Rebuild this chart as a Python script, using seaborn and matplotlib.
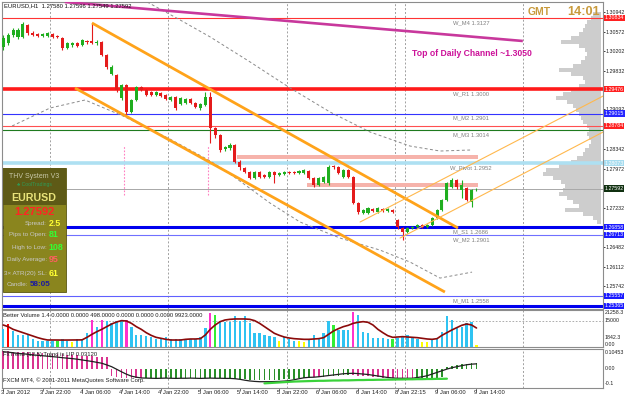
import numpy as np
import pandas as pd
import matplotlib
matplotlib.use("Agg")
import matplotlib.pyplot as plt
import matplotlib.transforms as mtransforms
from matplotlib.patches import Rectangle
import seaborn as sns

# ---------------- data ----------------
title_text = "EURUSD,H1  1.27580 1.27596 1.27549 1.27592"

candle_open = [1.30278, 1.30354, 1.30506, 1.30468, 1.30468, 1.30696, 1.30544, 1.30525, 1.30487, 1.30487,
               1.30525, 1.30487, 1.30449, 1.30259, 1.30316, 1.30354, 1.30316, 1.30392, 1.30392, 1.30354,
               1.30373, 1.30126, 1.29766, 1.29747, 1.29310, 1.29557, 1.29044, 1.29272, 1.29519, 1.29462,
               1.29424, 1.29367, 1.29405, 1.29367, 1.29272, 1.29329, 1.29196, 1.29215, 1.29291, 1.29215,
               1.29120, 1.29177, 1.29329, 1.28741, 1.28608, 1.28342, 1.28361, 1.28418, 1.28096, 1.27982,
               1.27906, 1.27792, 1.27906, 1.27849, 1.27811, 1.27906, 1.27849, 1.27868, 1.27906, 1.27906,
               1.27887, 1.27887, 1.27925, 1.27792, 1.27659, 1.27716, 1.27697, 1.28020, 1.28001, 1.27811,
               1.27944, 1.27811, 1.27318, 1.27128, 1.27128, 1.27204, 1.27147, 1.27204, 1.27166, 1.27185,
               1.26995, 1.26843, 1.26767, 1.26843, 1.26862, 1.26900, 1.26862, 1.26900, 1.27033, 1.27185,
               1.27374, 1.27621, 1.27754, 1.27564, 1.27602, 1.27336, 1.27580]
candle_high = [1.30506, 1.30544, 1.30639, 1.30639, 1.30753, 1.30715, 1.30582, 1.30544, 1.30544, 1.30563,
               1.30544, 1.30506, 1.30468, 1.30373, 1.30373, 1.30373, 1.30430, 1.30411, 1.30734, 1.30411,
               1.30392, 1.30145, 1.29936, 1.29766, 1.29576, 1.29576, 1.29291, 1.29538, 1.29538, 1.29481,
               1.29443, 1.29443, 1.29424, 1.29386, 1.29348, 1.29348, 1.29329, 1.29310, 1.29310, 1.29234,
               1.29215, 1.29424, 1.29424, 1.28760, 1.28627, 1.28399, 1.28456, 1.28437, 1.28134, 1.28001,
               1.27925, 1.27925, 1.27925, 1.27868, 1.27925, 1.27925, 1.27906, 1.27925, 1.27925, 1.27925,
               1.27944, 1.27963, 1.27944, 1.27811, 1.27811, 1.27830, 1.28039, 1.28039, 1.28020, 1.27963,
               1.27963, 1.27830, 1.27336, 1.27204, 1.27242, 1.27223, 1.27242, 1.27223, 1.27223, 1.27204,
               1.27014, 1.26862, 1.26862, 1.26881, 1.26919, 1.26919, 1.26919, 1.27052, 1.27204, 1.27393,
               1.27716, 1.27792, 1.27773, 1.27754, 1.27621, 1.27583, 1.27596]
candle_low = [1.30221, 1.30316, 1.30468, 1.30430, 1.30449, 1.30506, 1.30487, 1.30468, 1.30468, 1.30468,
              1.30449, 1.30449, 1.30221, 1.30240, 1.30278, 1.30278, 1.30297, 1.30335, 1.30335, 1.30316,
              1.30107, 1.29861, 1.29747, 1.29424, 1.29272, 1.28988, 1.29025, 1.29253, 1.29443, 1.29348,
              1.29348, 1.29348, 1.29329, 1.29272, 1.29253, 1.29082, 1.29177, 1.29196, 1.29196, 1.29120,
              1.29082, 1.29158, 1.28456, 1.28551, 1.28285, 1.28304, 1.28323, 1.28077, 1.27944, 1.27887,
              1.27773, 1.27773, 1.27792, 1.27792, 1.27792, 1.27697, 1.27830, 1.27849, 1.27868, 1.27868,
              1.27868, 1.27868, 1.27773, 1.27621, 1.27640, 1.27697, 1.27659, 1.27963, 1.27868, 1.27792,
              1.27792, 1.27299, 1.27109, 1.27109, 1.27109, 1.27147, 1.27128, 1.27147, 1.27147, 1.27128,
              1.26824, 1.26615, 1.26748, 1.26824, 1.26843, 1.26843, 1.26843, 1.26881, 1.27014, 1.27166,
              1.27355, 1.27602, 1.27583, 1.27412, 1.27355, 1.27242, 1.27549]
candle_close = [1.30449, 1.30506, 1.30601, 1.30601, 1.30715, 1.30544, 1.30506, 1.30487, 1.30525, 1.30544,
                1.30468, 1.30468, 1.30259, 1.30354, 1.30354, 1.30297, 1.30411, 1.30373, 1.30354, 1.30373,
                1.30126, 1.29899, 1.29899, 1.29462, 1.29557, 1.29044, 1.29272, 1.29519, 1.29462, 1.29367,
                1.29367, 1.29424, 1.29348, 1.29291, 1.29329, 1.29120, 1.29310, 1.29291, 1.29215, 1.29139,
                1.29196, 1.29329, 1.28741, 1.28608, 1.28323, 1.28380, 1.28418, 1.28096, 1.28001, 1.27906,
                1.27792, 1.27906, 1.27811, 1.27811, 1.27906, 1.27849, 1.27887, 1.27906, 1.27887, 1.27887,
                1.27925, 1.27944, 1.27792, 1.27659, 1.27792, 1.27811, 1.28001, 1.28001, 1.27887, 1.27944,
                1.27811, 1.27318, 1.27147, 1.27185, 1.27223, 1.27166, 1.27223, 1.27166, 1.27204, 1.27147,
                1.26862, 1.26767, 1.26843, 1.26862, 1.26900, 1.26862, 1.26900, 1.27033, 1.27185, 1.27374,
                1.27697, 1.27754, 1.27621, 1.27659, 1.27374, 1.27564, 1.27592]

time_labels = ["3 Jan 2012", "3 Jan 22:00", "4 Jan 06:00", "4 Jan 14:00", "4 Jan 22:00",
               "5 Jan 06:00", "5 Jan 14:00", "5 Jan 22:00", "6 Jan 06:00", "6 Jan 14:00",
               "8 Jan 22:15", "9 Jan 06:00", "9 Jan 14:00"]
time_label_bar = [0, 8, 16, 24, 32, 40, 48, 56, 64, 72, 80, 88, 96]
day_separators = [9.5, 33.5, 57.5, 79.5, 81.5, 105.5]

price_ticks = [1.30942, 1.30572, 1.30202, 1.29832, 1.29092, 1.28342, 1.27972,
               1.27232, 1.26482, 1.26112, 1.25742]

level_prices = [1.30834, 1.29476, 1.29015, 1.28784, 1.28703, 1.28073, 1.27592,
                1.26858, 1.26713, 1.25557, 1.25365]
level_colors = ['#ff3333', '#ff1a1a', '#3333ff', '#ff5050', '#1f7a1f', '#aee0f2', '#a8a8a8',
                '#0000ee', '#7070ff', '#6060ff', '#0000ee']
level_widths = [0.8, 2.6, 0.8, 0.8, 0.8, 2.6, 0.7, 2.2, 0.8, 0.8, 2.2]
tag_prices = [1.30834, 1.29476, 1.29015, 1.28784, 1.28073, 1.27592, 1.26858, 1.26713, 1.25557, 1.25365]
tag_colors = ['#ff2020', '#ff2020', '#2525ff', '#ff2020', '#a6dcef', '#103010',
              '#1a1aff', '#1a1aff', '#1a1aff', '#1a1aff']

level_names = ["W_M4 1.3127", "W_R1 1.3000", "M_M2 1.2901", "M_M3 1.3014",
               "W_Pivot 1.2952", "M_S1 1.2686", "W_M2 1.2901", "M_M1 1.2558"]
level_name_prices = [1.30834, 1.29476, 1.29015, 1.28703, 1.28073, 1.26858, 1.26713, 1.25557]

# trendlines: (bar index, price) pairs
orange_upper_x, orange_upper_y = [18, 92.25], [1.30734, 1.26843]
orange_lower_x, orange_lower_y = [14.56, 89.6], [1.29500, 1.25628]
thin_a_x, thin_a_y = [72.4, 121.7], [1.26957, 1.29348]
thin_b_x, thin_b_y = [80.5, 121.7], [1.26653, 1.28665]
magenta_x, magenta_y = [12.5, 105.4], [1.31132, 1.30392]
channel_note = "Top of Daily Channel ~1.3050"

env_upper_x = [29.2, 35.9, 42.0, 50.1, 58.2, 66.3, 74.4, 82.5, 88.6, 94.7]
env_upper_y = [1.31132, 1.30790, 1.30468, 1.29993, 1.29500, 1.29044, 1.28665, 1.28399, 1.28304, 1.28323]
env_lower_x = [1.8, 9.5, 16.6, 24.3, 33.8, 42.0, 46.6, 54.1, 60.2, 68.3, 76.4, 82.5, 88.6, 95.1]
env_lower_y = [1.28779, 1.29120, 1.29272, 1.28969, 1.28532, 1.28115, 1.27830, 1.27318, 1.26957,
               1.26653, 1.26425, 1.26198, 1.25893, 1.26006]

zone_bars = [(47.4, 96.3), (61.6, 96.3)]
zone_prices = [(1.28153, 1.28228), (1.27621, 1.27697)]
pink_marks = [24.5, 41.5]
pink_mark_range = (1.27469, 1.28418)

profile_top_price = 1.30904
profile_bin = 0.000759
profile_ticks = [80, 100, 140, 160, 180, 220, 300, 400, 220, 160, 140, 160, 200, 280, 420, 300,
                 180, 160, 220, 300, 380, 450, 340, 280, 250, 220, 200, 180, 140, 120, 140, 120,
                 100, 120, 160, 180, 240, 300, 420, 550, 580, 480, 400, 360, 380, 420, 340, 280,
                 220, 360, 180, 80, 40]

volume = [10158, 13225, 9392, 6900, 6900, 6900, 4408, 3642, 3642, 3642,
          3642, 3642, 4408, 3642, 3067, 4408, 4408, 7858, 15525, 11692,
          15525, 15142, 13608, 15142, 15142, 15525, 11692, 6900, 6900, 6325,
          5942, 4408, 4408, 5558, 4408, 4408, 4408, 4408, 4408, 4408,
          5942, 10733, 19358, 18400, 14567, 14567, 14567, 17825, 15142, 17825,
          13608, 8242, 7858, 6900, 6325, 5942, 3642, 5558, 4408, 3642,
          3642, 3067, 4408, 6900, 4408, 7858, 15142, 12650, 9775, 9775,
          9775, 20317, 18400, 8817, 7858, 4983, 4983, 4983, 4408, 4408,
          4983, 5942, 6900, 4983, 4408, 3067, 3067, 4408, 4408, 8817,
          17825, 15525, 11692, 11692, 13608, 14567, 1150]
volume_kind = ("brbbbbbbbb" "bgbbybbbmb" "mbbbbmbbbb" "bbbbbbbbbb" "bbmgbbbbbb"
               "bbbbbbybbb" "yybbbbbgbb" "bmbbbbbbbg" "bbbbbyybbb" "bbbbbby")
volume_ma = [12650, 11692, 10158, 9200, 8242, 7283, 6325, 5367, 4600, 4025,
             4025, 4010, 3990, 4000, 4030, 4060, 4100, 5558, 7283, 8817,
             10158, 11692, 13225, 14375, 15142, 14950, 13608, 11692, 10158, 8242,
             6708, 5558, 4983, 4408, 4025, 4025, 4025, 4408, 4600, 4600,
             4792, 6900, 10158, 12650, 14567, 15525, 15908, 16100, 16100, 16100,
             15908, 15142, 13608, 11692, 9775, 7858, 6708, 5750, 5175, 4792,
             4600, 4408, 4408, 4600, 4792, 5367, 7283, 9200, 10542, 11692,
             12458, 13608, 14183, 14567, 14183, 12650, 10158, 8242, 6517, 5558,
             5750, 5942, 5750, 5558, 5367, 4983, 4600, 4408, 4792, 6708,
             8242, 9775, 11117, 12458, 13225, 12650, 10925]
volume_title = "Better Volume 1.4 0.0000 0.0000 498.0000 0.0000 0.0000 0.0000 9923.0000"

trend_line = [0.112, 0.109, 0.105, 0.101, 0.098, 0.095, 0.091, 0.088, 0.085, 0.082,
              0.079, 0.076, 0.072, 0.069, 0.066, 0.062, 0.057, 0.052, 0.047, 0.041,
              0.035, 0.024, 0.012, -0.005, -0.022, -0.038, -0.051, -0.058, -0.063, -0.064,
              -0.065, -0.066, -0.065, -0.064, -0.065, -0.066, -0.065, -0.065, -0.064, -0.065,
              -0.066, -0.065, -0.064, -0.065, -0.065, -0.066, -0.066, -0.068, -0.072, -0.078,
              -0.083, -0.086, -0.088, -0.088, -0.088, -0.087, -0.086, -0.084, -0.081, -0.075,
              -0.068, -0.062, -0.059, -0.058, -0.055, -0.051, -0.047, -0.043, -0.039, -0.035,
              -0.033, -0.032, -0.034, -0.037, -0.040, -0.045, -0.050, -0.055, -0.060, -0.063,
              -0.065, -0.065, -0.065, -0.065, -0.060, -0.055, -0.048, -0.037, -0.026, -0.015,
              -0.004, 0.005, 0.012, 0.019, 0.025, 0.029, 0.031]
trend_hist = [0.115, 0.114, 0.113, 0.112, 0.110, 0.108, 0.106, 0.104, 0.102, 0.100,
              0.098, 0.096, 0.094, 0.092, 0.090, 0.088, 0.086, 0.084, 0.082, 0.080,
              0.078, 0.075, -0.050, -0.058, -0.062, -0.064, -0.065, -0.065, -0.066,
              -0.065, -0.066, -0.065, -0.064, -0.065, -0.066, -0.065, -0.065, -0.064, -0.065,
              -0.066, -0.065, -0.064, -0.065, -0.065, -0.066, -0.066, -0.067,
              -0.068, -0.070, -0.072, -0.074, -0.075, -0.076, -0.076, -0.076, -0.075, -0.074,
              -0.073, -0.072, -0.070, -0.066, -0.062, -0.060,
              -0.058, -0.056, -0.055, -0.052, -0.050, -0.048, -0.046, -0.045,
              -0.046, -0.048, -0.050, -0.052, -0.055, -0.058, -0.060, -0.062, -0.063, -0.064,
              -0.065, -0.065, -0.065, -0.064, -0.064, -0.063, -0.062, -0.060, -0.055,
              0.012, 0.020, 0.026, 0.030, 0.033, 0.034, 0.035]
trend_kind = ("mmmmmmmmmm" "mmmmmmmmmm" "mmmmmmmmmg" "gggggggggg" "gggggggggg"
              "gggggggggg" "gggmmggggg" "gmmmmmmmmm" "mmmmgggggg" "ggggggg")
signal_start = 53
signal_line = [-0.099, -0.097, -0.095, -0.093, -0.091, -0.089, -0.087, -0.086, -0.085, -0.084,
               -0.083, -0.082, -0.082, -0.081, -0.080, -0.080, -0.079, -0.079, -0.078, -0.077,
               -0.077, -0.076, -0.076, -0.075, -0.075, -0.074, -0.074, -0.073, -0.073, -0.072,
               -0.072, -0.071, -0.071, -0.070, -0.070, -0.069, -0.069, -0.068]
trend_title = "FxTrend (12,5) Trend is UP 0.03120"
copyright_text = "FXCM MT4, \u00a9 2001-2011 MetaQuotes Software Corp."

panel_rows = [("Spread:", "2.5", '#ffff33'), ("Pips to Open:", "81", '#33ff33'),
              ("High to Low:", "108", '#33ff33'), ("Daily Average:", "95", '#ff6060'),
              ("3\u00d7 ATR(20) SL:", "61", '#ffff33'), ("Candle:", "58:05", '#1a1aa0')]

# ---------------- style / layout ----------------
sns.set_theme(style="white")
plt.rcParams['font.family'] = ['Liberation Sans', 'DejaVu Sans']

W, H = 625, 398
fig = plt.figure(figsize=(W / 100, H / 100), dpi=100)
fig.patch.set_facecolor('white')

def frac_box(l, t, r, b):
    return [l / W, 1 - b / H, (r - l) / W, (b - t) / H]

ax = fig.add_axes(frac_box(2, 2, 603, 309))
axv = fig.add_axes(frac_box(2, 310, 603, 347), sharex=ax)
axi = fig.add_axes(frac_box(2, 349, 603, 388), sharex=ax)

S, X0 = 4.93, 3.2
x_lo, x_hi = (2 - X0) / S, (603 - X0) / S
frame_c = '#8c8c8c'
AXFS = 3.8
for a in (ax, axv, axi):
    a.set_facecolor('white')
    for sp in a.spines.values():
        sp.set_color(frame_c)
        sp.set_linewidth(0.8)
    a.tick_params(axis='x', bottom=False, labelbottom=False)
    a.yaxis.tick_right()
    for xs in day_separators:
        a.axvline(xs, color='#a0a0a0', lw=0.7, ls=(0, (2, 2)), zorder=1)

ax.set_xlim(x_lo, x_hi)
ax.set_ylim(1.25306, 1.31132)
n = len(candle_open)
idx = np.arange(n)

# volume profile
prof_prices = profile_top_price - profile_bin * np.arange(len(profile_ticks))
prof_len = np.array(profile_ticks) / (10 * S)
right_edge = (601 - X0) / S
ax.barh(prof_prices, prof_len, height=profile_bin * 0.95, left=right_edge - prof_len,
        color='#cdcdcd', edgecolor='none', zorder=1)

# zones
for (x1, x2), (p1, p2) in zip(zone_bars, zone_prices):
    ax.add_patch(Rectangle((x1, p1), x2 - x1, p2 - p1, fc='#f6b3ab', ec='none', zorder=2))
for xm in pink_marks:
    ax.vlines(xm, pink_mark_range[0], pink_mark_range[1], color='#ff7fc0', lw=0.8,
              linestyles=(0, (1.5, 1.5)), zorder=2)

# horizontal levels
for p, c, w in zip(level_prices, level_colors, level_widths):
    ax.axhline(p, color=c, lw=w, zorder=2)

# envelopes (seaborn)
sns.lineplot(x=env_upper_x, y=env_upper_y, ax=ax, color='#8a8a8a', linewidth=0.7,
             estimator=None, sort=False, zorder=3)
ax.lines[-1].set_linestyle((0, (3, 2.5)))
sns.lineplot(x=env_lower_x, y=env_lower_y, ax=ax, color='#8a8a8a', linewidth=0.7,
             estimator=None, sort=False, zorder=3)
ax.lines[-1].set_linestyle((0, (3, 2.5)))

# candles
o = np.array(candle_open); c = np.array(candle_close)
hi = np.array(candle_high); lo = np.array(candle_low)
up = c >= o
cols = np.where(up, '#1fae1f', '#e41b1b')
ax.vlines(idx, lo, hi, colors=cols, lw=0.8, zorder=4)
body = np.maximum(np.abs(c - o), 0.00006)
ax.bar(idx, body, bottom=np.minimum(o, c), width=0.62, color=cols, edgecolor='none', zorder=5)

# trendlines
ax.plot(orange_upper_x, orange_upper_y, color='#ffa31a', lw=2.0, zorder=6, solid_capstyle='butt')
ax.plot(orange_lower_x, orange_lower_y, color='#ffa31a', lw=2.0, zorder=6, solid_capstyle='butt')
ax.plot(thin_a_x, thin_a_y, color='#ffb84d', lw=0.8, zorder=6)
ax.plot(thin_b_x, thin_b_y, color='#ffb84d', lw=0.8, zorder=6)
ax.plot(magenta_x, magenta_y, color='#c8389c', lw=1.9, zorder=6, solid_capstyle='butt')
ax.text(82.9, 1.30164, channel_note, color='#cc1199', fontsize=6.2, fontweight='bold',
        ha='left', va='center', zorder=7)

# level name labels
for name, p in zip(level_names, level_name_prices):
    ax.annotate(name, (94.9, p), xytext=(0, -1.6), textcoords='offset points',
                ha='center', va='top', fontsize=4.2, color='#808080', zorder=7)

# right price axis
ax.set_yticks(price_ticks)
ax.set_yticklabels([f"{p:.5f}" for p in price_ticks])
for a in (ax, axv, axi):
    a.tick_params(axis='y', labelsize=AXFS, length=1.5, pad=0.5, colors='#202020', width=0.6)
blend = mtransforms.blended_transform_factory(ax.transAxes, ax.transData)
for p, col in zip(tag_prices, tag_colors):
    ax.text(1.0025, p, f"{p:.5f}", transform=blend, ha='left', va='center', fontsize=AXFS,
            color='white', zorder=10, clip_on=False,
            bbox=dict(boxstyle='square,pad=0.12', fc=col, ec='none'))

# ---- volume panel ----
vol_colors = {'b': '#2fc3f2', 'r': '#ff0000', 'g': '#33ee33', 'y': '#ffff00', 'm': '#ff33cc'}
axv.set_ylim(0, 21258.3)
axv.bar(idx, volume, width=0.48, color=[vol_colors[k] for k in volume_kind], edgecolor='none', zorder=3)
sns.lineplot(x=idx, y=volume_ma, ax=axv, color='#8b0a0a', linewidth=1.2, estimator=None, zorder=4)
axv.axhline(15000, color='#a0a0a0', lw=0.6, ls=(0, (2, 2)), zorder=1)
axv.set_yticks([])
bv = mtransforms.blended_transform_factory(axv.transAxes, axv.transData)
axv.text(1.003, 21258.3, "21258.3", transform=bv, ha='left', va='top', fontsize=AXFS, color='#202020')
axv.text(1.003, 15000, "15000", transform=bv, ha='left', va='center', fontsize=AXFS, color='#202020')
axv.text(1.003, 5600, "1842.3", transform=bv, ha='left', va='center', fontsize=AXFS, color='#202020')
axv.text(1.003, 0, "0.00", transform=bv, ha='left', va='bottom', fontsize=AXFS, color='#202020')
axv.text(0.002, 0.92, volume_title, transform=axv.transAxes, ha='left', va='top', fontsize=4.2,
         color='#202020', zorder=6)

# ---- trend panel ----
tr_colors = {'m': '#d9338f', 'g': '#2a8f2a'}
axi.set_ylim(-0.13, 0.13)
axi.bar(idx, trend_hist, width=0.34, color=[tr_colors[k] for k in trend_kind], edgecolor='none', zorder=3)
sns.lineplot(x=idx, y=trend_line, ax=axi, color='#202020', linewidth=0.9, estimator=None, zorder=4)
sig_x = np.arange(signal_start, signal_start + len(signal_line))
sns.lineplot(x=sig_x, y=signal_line, ax=axi, color='#3ad23a', linewidth=1.6, estimator=None, zorder=4)
axi.set_yticks([])
bi = mtransforms.blended_transform_factory(axi.transAxes, axi.transData)
axi.text(1.003, 0.10453, "0.10453", transform=bi, ha='left', va='center', fontsize=AXFS, color='#202020')
axi.text(1.003, 0.0, "0.00", transform=bi, ha='left', va='center', fontsize=AXFS, color='#202020')
axi.text(1.003, -0.1, "-0.1", transform=bi, ha='left', va='center', fontsize=AXFS, color='#202020')
axi.text(0.002, 0.93, trend_title, transform=axi.transAxes, ha='left', va='top', fontsize=4.2,
         color='#202020', zorder=6)
axi.text(0.002, 0.2, copyright_text, transform=axi.transAxes, ha='left', va='center', fontsize=4.2,
         color='#202020', zorder=6)

# time axis
axi.set_xticks(time_label_bar)
axi.tick_params(axis='x', bottom=True, length=2, width=0.6, color='#606060', labelbottom=False)
bt = mtransforms.blended_transform_factory(axi.transData, axi.transAxes)
for t, lab in zip(time_label_bar, time_labels):
    axi.text(t - 0.5, -0.06, lab, transform=bt, ha='left', va='top', fontsize=4.2,
             color='#202020', clip_on=False)

for a in (ax, axv, axi):
    a.set_xlabel('')
    a.set_ylabel('')
    a.grid(False)
ax.set_xlim(x_lo, x_hi)

# ---- overlays in figure pixels ----
def ftext(px, py, s, **kw):
    return fig.text(px / W, 1 - py / H, s, **kw)

ftext(4, 6, title_text, fontsize=4.2, color='#101010', va='center', ha='left')
ftext(528, 12, "GMT", fontsize=7.5, fontweight='bold', color='#c89a3c', va='center', ha='left')
ftext(567, 12, "14:01", fontsize=9.2, fontweight='bold', color='#c89a3c', va='center', ha='left')

fig.add_artist(Rectangle((3 / W, 1 - 292 / H), 63 / W, 124 / H, transform=fig.transFigure,
                         fc='#8a851e', ec='#5a5612', lw=0.6, zorder=5))
fig.add_artist(Rectangle((3 / W, 1 - 205 / H), 63 / W, 37 / H, transform=fig.transFigure,
                         fc='#5e5a16', ec='none', zorder=5))
ftext(34, 177, "THV System V3", fontsize=5, color='#c8c8a8', ha='center', va='center', zorder=6)
ftext(34, 185, "\u2663 CoolTradings", fontsize=3.6, color='#2e9b57', ha='center', va='center', zorder=6)
ftext(34, 198, "EURUSD", fontsize=7.7, fontweight='bold', color='#e8e27a', ha='center', va='center', zorder=6)
ftext(34, 212, "1.27592", fontsize=8, fontweight='bold', color='#ff2424', ha='center', va='center', zorder=6)
row_y = [223, 235, 248, 260, 273, 285]
for (lab, val, vc), yy in zip(panel_rows, row_y):
    split = 28 if lab == "Candle:" else 47
    ftext(split, yy, lab, fontsize=4.5, color='#c8c8c8', ha='right', va='center', zorder=6)
    ftext(split + 1.5, yy, val, fontsize=6.4 if lab != "Candle:" else 5.8, fontweight='bold',
          color=vc, ha='left', va='center', zorder=6)

fig.savefig("out.png", dpi=100)
